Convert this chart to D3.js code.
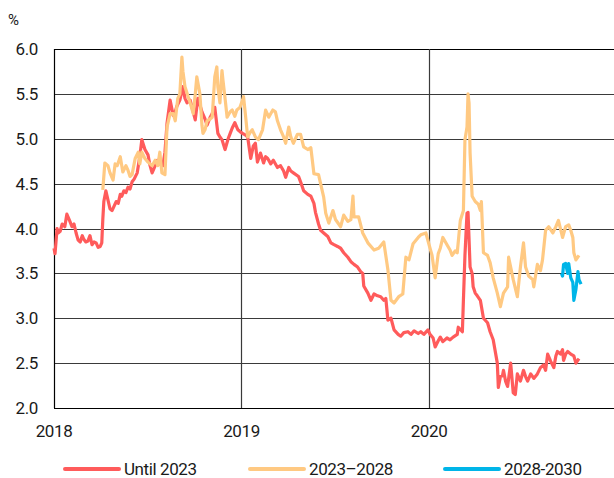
<!DOCTYPE html>
<html>
<head>
<meta charset="utf-8">
<script src="https://cdn.jsdelivr.net/npm/d3@7"></script>
<style>
  body { margin: 0; background: #fff; }
  text { font-family: "Roboto", sans-serif; fill: #1a1a1a; letter-spacing: -0.4px; }
</style>
</head>
<body>
<svg></svg>
<script>
// yields, %
const until2023 = [
  ["2018-01-01",3.78],["2018-01-03",3.72],["2018-01-07",4.0],["2018-01-09",3.95],["2018-01-13",3.97],["2018-01-17",4.05],
  ["2018-01-22",4.02],["2018-01-26",4.16],["2018-02-01",4.08],["2018-02-05",4.02],["2018-02-09",4.05],["2018-02-13",3.95],
  ["2018-02-17",3.87],["2018-02-21",3.85],["2018-02-25",3.92],["2018-02-28",3.88],["2018-03-04",3.85],["2018-03-08",3.86],
  ["2018-03-12",3.92],["2018-03-16",3.82],["2018-03-20",3.85],["2018-03-24",3.84],["2018-03-28",3.79],["2018-04-01",3.80],
  ["2018-04-04",3.84],["2018-04-06",4.1],["2018-04-08",4.3],["2018-04-12",4.42],["2018-04-16",4.32],["2018-04-20",4.22],
  ["2018-04-24",4.20],["2018-04-28",4.25],["2018-05-02",4.30],["2018-05-06",4.28],["2018-05-10",4.38],["2018-05-13",4.36],
  ["2018-05-17",4.42],["2018-05-21",4.40],["2018-05-25",4.46],["2018-05-29",4.44],["2018-06-02",4.52],["2018-06-06",4.55],
  ["2018-06-12",4.62],["2018-06-17",4.80],["2018-06-21",4.99],["2018-06-27",4.88],["2018-07-03",4.82],["2018-07-07",4.70],
  ["2018-07-11",4.62],["2018-07-17",4.70],["2018-07-21",4.76],["2018-07-26",4.72],["2018-08-01",4.70],["2018-08-05",4.85],
  ["2018-08-09",5.17],["2018-08-15",5.43],["2018-08-21",5.26],["2018-08-25",5.30],["2018-08-28",5.36],["2018-09-03",5.43],
  ["2018-09-09",5.58],["2018-09-13",5.45],["2018-09-17",5.40],["2018-09-23",5.43],["2018-09-29",5.30],["2018-10-03",5.21],
  ["2018-10-08",5.45],["2018-10-12",5.38],["2018-10-16",5.30],["2018-10-22",5.22],["2018-10-26",5.15],["2018-11-01",5.24],
  ["2018-11-05",5.28],["2018-11-10",5.35],["2018-11-16",5.06],["2018-11-20",5.02],["2018-11-24",4.99],["2018-11-30",4.88],
  ["2018-12-06",5.00],["2018-12-10",5.06],["2018-12-14",5.12],["2018-12-19",5.18],["2018-12-25",5.10],["2018-12-29",5.08],
  ["2019-01-03",5.06],["2019-01-09",5.04],["2019-01-13",5.02],["2019-01-19",4.78],["2019-01-24",4.92],["2019-01-28",4.95],
  ["2019-02-01",4.74],["2019-02-07",4.84],["2019-02-13",4.73],["2019-02-17",4.80],["2019-02-21",4.78],["2019-02-27",4.72],
  ["2019-03-04",4.76],["2019-03-12",4.68],["2019-03-18",4.70],["2019-03-24",4.64],["2019-03-28",4.57],["2019-04-03",4.68],
  ["2019-04-07",4.64],["2019-04-12",4.62],["2019-04-22",4.58],["2019-04-26",4.52],["2019-05-02",4.42],["2019-05-10",4.38],
  ["2019-05-16",4.36],["2019-05-22",4.28],["2019-05-25",4.18],["2019-05-31",4.05],["2019-06-04",3.98],["2019-06-10",3.95],
  ["2019-06-18",3.91],["2019-06-24",3.84],["2019-06-30",3.82],["2019-07-07",3.80],["2019-07-13",3.78],["2019-07-19",3.73],
  ["2019-07-27",3.68],["2019-08-02",3.63],["2019-08-08",3.60],["2019-08-15",3.57],["2019-08-21",3.52],["2019-08-25",3.50],
  ["2019-08-27",3.36],["2019-09-04",3.28],["2019-09-10",3.20],["2019-09-16",3.27],["2019-09-23",3.25],["2019-09-29",3.24],
  ["2019-10-05",3.20],["2019-10-09",3.22],["2019-10-13",2.98],["2019-10-19",3.00],["2019-10-25",2.87],["2019-11-02",2.82],
  ["2019-11-07",2.80],["2019-11-13",2.84],["2019-11-21",2.85],["2019-11-27",2.82],["2019-12-03",2.86],["2019-12-11",2.83],
  ["2019-12-16",2.85],["2019-12-22",2.82],["2019-12-30",2.87],["2020-01-03",2.82],["2020-01-09",2.78],["2020-01-13",2.68],
  ["2020-01-19",2.75],["2020-01-23",2.79],["2020-01-28",2.74],["2020-02-05",2.78],["2020-02-11",2.76],["2020-02-17",2.79],
  ["2020-02-25",2.82],["2020-02-27",2.90],["2020-03-06",2.85],["2020-03-08",3.20],["2020-03-11",3.70],["2020-03-15",4.17],
  ["2020-03-17",4.18],["2020-03-21",3.57],["2020-03-25",3.50],["2020-03-27",3.35],["2020-03-31",3.28],["2020-04-04",3.25],
  ["2020-04-10",3.20],["2020-04-16",3.00],["2020-04-24",2.95],["2020-04-29",2.85],["2020-05-05",2.76],["2020-05-13",2.50],
  ["2020-05-15",2.23],["2020-05-19",2.35],["2020-05-23",2.36],["2020-05-25",2.42],["2020-05-29",2.30],["2020-06-02",2.24],
  ["2020-06-08",2.50],["2020-06-13",2.17],["2020-06-17",2.15],["2020-06-21",2.38],["2020-06-27",2.30],["2020-07-03",2.42],
  ["2020-07-07",2.35],["2020-07-11",2.30],["2020-07-17",2.38],["2020-07-23",2.33],["2020-07-30",2.38],["2020-08-05",2.45],
  ["2020-08-11",2.48],["2020-08-15",2.42],["2020-08-19",2.60],["2020-08-25",2.52],["2020-08-31",2.45],["2020-09-04",2.58],
  ["2020-09-07",2.63],["2020-09-13",2.60],["2020-09-17",2.65],["2020-09-19",2.53],["2020-09-23",2.60],["2020-09-27",2.63],
  ["2020-10-03",2.60],["2020-10-09",2.58],["2020-10-13",2.50],["2020-10-19",2.55]
];
const from2023to2028 = [
  ["2018-04-06",4.43],["2018-04-10",4.73],["2018-04-16",4.70],["2018-04-20",4.62],["2018-04-26",4.54],["2018-04-30",4.72],
  ["2018-05-04",4.70],["2018-05-10",4.80],["2018-05-15",4.63],["2018-05-21",4.70],["2018-05-25",4.65],["2018-05-29",4.58],
  ["2018-06-02",4.60],["2018-06-08",4.78],["2018-06-14",4.85],["2018-06-17",4.72],["2018-06-21",4.85],["2018-06-27",4.78],
  ["2018-07-03",4.74],["2018-07-07",4.72],["2018-07-11",4.70],["2018-07-17",4.76],["2018-07-22",4.70],["2018-07-26",4.85],
  ["2018-07-30",4.62],["2018-08-05",4.60],["2018-08-09",5.13],["2018-08-15",5.28],["2018-08-21",5.28],["2018-08-25",5.20],
  ["2018-08-30",5.45],["2018-09-03",5.50],["2018-09-07",5.91],["2018-09-09",5.75],["2018-09-13",5.58],["2018-09-19",5.47],
  ["2018-09-23",5.40],["2018-09-29",5.28],["2018-10-03",5.50],["2018-10-06",5.69],["2018-10-12",5.50],["2018-10-16",5.15],
  ["2018-10-18",5.06],["2018-10-22",5.10],["2018-10-26",5.20],["2018-11-01",5.22],["2018-11-05",5.24],["2018-11-10",5.69],
  ["2018-11-14",5.80],["2018-11-16",5.58],["2018-11-20",5.40],["2018-11-24",5.76],["2018-11-26",5.65],["2018-11-30",5.45],
  ["2018-12-04",5.24],["2018-12-10",5.30],["2018-12-14",5.32],["2018-12-19",5.25],["2018-12-23",5.32],["2018-12-29",5.35],
  ["2019-01-03",5.43],["2019-01-05",5.47],["2019-01-09",5.25],["2019-01-13",5.02],["2019-01-19",5.08],["2019-01-22",5.10],
  ["2019-01-28",5.02],["2019-02-03",4.99],["2019-02-11",5.10],["2019-02-17",5.32],["2019-02-23",5.24],["2019-03-03",5.32],
  ["2019-03-08",5.30],["2019-03-12",5.20],["2019-03-18",5.10],["2019-03-24",5.02],["2019-03-28",4.95],["2019-04-03",5.13],
  ["2019-04-07",5.02],["2019-04-12",4.95],["2019-04-20",5.05],["2019-04-26",5.05],["2019-05-02",4.91],["2019-05-10",4.88],
  ["2019-05-16",4.90],["2019-05-22",4.61],["2019-05-31",4.60],["2019-06-06",4.45],["2019-06-10",4.35],["2019-06-14",4.17],
  ["2019-06-20",4.06],["2019-06-28",4.20],["2019-07-03",4.10],["2019-07-13",4.02],["2019-07-19",4.15],["2019-07-27",4.08],
  ["2019-08-02",4.10],["2019-08-06",4.36],["2019-08-08",4.13],["2019-08-17",4.13],["2019-08-25",3.95],["2019-09-04",3.84],
  ["2019-09-16",3.76],["2019-09-25",3.78],["2019-10-05",3.85],["2019-10-13",3.54],["2019-10-19",3.20],["2019-10-25",3.17],
  ["2019-11-03",3.24],["2019-11-11",3.27],["2019-11-17",3.68],["2019-11-23",3.65],["2019-12-01",3.83],["2019-12-11",3.90],
  ["2019-12-16",3.93],["2019-12-26",3.95],["2020-01-03",3.78],["2020-01-07",3.70],["2020-01-13",3.45],["2020-01-19",3.72],
  ["2020-01-23",3.78],["2020-01-28",3.90],["2020-02-07",3.80],["2020-02-11",3.76],["2020-02-15",3.70],["2020-02-21",3.75],
  ["2020-02-25",3.73],["2020-03-02",4.09],["2020-03-08",4.20],["2020-03-11",4.99],["2020-03-15",5.13],["2020-03-17",5.50],
  ["2020-03-19",5.40],["2020-03-21",4.84],["2020-03-25",4.36],["2020-03-31",4.30],["2020-04-06",4.27],["2020-04-10",4.20],
  ["2020-04-12",4.30],["2020-04-16",3.73],["2020-04-24",3.70],["2020-04-29",3.62],["2020-05-05",3.45],["2020-05-13",3.28],
  ["2020-05-19",3.13],["2020-05-25",3.28],["2020-06-02",3.35],["2020-06-04",3.68],["2020-06-08",3.57],["2020-06-13",3.43],
  ["2020-06-21",3.24],["2020-06-27",3.57],["2020-07-03",3.84],["2020-07-07",3.57],["2020-07-13",3.47],["2020-07-21",3.43],
  ["2020-07-23",3.35],["2020-07-30",3.60],["2020-08-05",3.53],["2020-08-09",3.65],["2020-08-15",3.98],["2020-08-21",4.02],
  ["2020-08-29",3.95],["2020-09-04",4.02],["2020-09-09",4.09],["2020-09-17",3.90],["2020-09-23",4.02],["2020-09-29",4.04],
  ["2020-10-03",3.98],["2020-10-07",3.90],["2020-10-09",3.73],["2020-10-13",3.65],["2020-10-19",3.70]
];
const from2028to2030 = [
  ["2020-09-15",3.50],["2020-09-17",3.47],["2020-09-19",3.60],["2020-09-23",3.61],["2020-09-27",3.50],["2020-09-29",3.61],
  ["2020-10-03",3.45],["2020-10-07",3.40],["2020-10-09",3.20],["2020-10-13",3.32],["2020-10-17",3.52],["2020-10-19",3.43],
  ["2020-10-23",3.38]
];
const seriesNames = ["Until 2023", "2023\u20132028", "2028-2030"];
const seriesColors = ["#ff5b5b", "#ffc982", "#00b5e8"];
const yTicks = [2.0, 2.5, 3.0, 3.5, 4.0, 4.5, 5.0, 5.5, 6.0];
const xTicks = ["2018-01-01", "2019-01-01", "2020-01-01"];

const [width, height] = [614, 478];
const margin = {top: 49, left: 54, bottom: 70};
const parse = d3.timeParse('%Y-%m-%d');

const svg = d3.select('svg')
  .attr('width', width)
  .attr('height', height);

const x = d3.scaleTime()
  .domain([parse('2018-01-01'), parse('2021-01-01')])
  .range([margin.left, 617]);
const y = d3.scaleLinear()
  .domain([2, 6])
  .range([height - margin.bottom, margin.top]);

// horizontal grid
svg.append('g')
  .selectAll('line')
  .data(yTicks)
  .join('line')
  .attr('x1', margin.left)
  .attr('x2', width)
  .attr('y1', d => Math.round(y(d)) + 0.5)
  .attr('y2', d => Math.round(y(d)) + 0.5)
  .attr('stroke', d => (d === 6 || d === 2) ? '#000' : '#3a3a3a')
  .attr('stroke-width', 1.2);

// vertical grid at year starts
svg.append('g')
  .selectAll('line')
  .data(xTicks)
  .join('line')
  .attr('x1', d => Math.round(x(parse(d))) + 0.5)
  .attr('x2', d => Math.round(x(parse(d))) + 0.5)
  .attr('y1', y(6))
  .attr('y2', y(2))
  .attr('stroke', (d, i) => i === 0 ? '#000' : '#3a3a3a')
  .attr('stroke-width', 1.2);

// y labels
svg.append('g')
  .selectAll('text')
  .data(yTicks)
  .join('text')
  .attr('x', 38)
  .attr('y', d => y(d))
  .attr('dy', '0.36em')
  .attr('text-anchor', 'end')
  .attr('font-size', 17)
  .text(d => d3.format('.1f')(d));

svg.append('text')
  .attr('x', 8)
  .attr('y', 25)
  .attr('font-size', 15)
  .text('%');

// x labels
svg.append('g')
  .selectAll('text')
  .data(xTicks)
  .join('text')
  .attr('x', d => x(parse(d)))
  .attr('y', 437)
  .attr('text-anchor', 'middle')
  .attr('font-size', 17)
  .text(d => d.slice(0, 4));

// lines
const line = d3.line()
  .x(d => x(parse(d[0])))
  .y(d => y(d[1]));

svg.append('g')
  .selectAll('path')
  .data([until2023, from2023to2028, from2028to2030])
  .join('path')
  .attr('fill', 'none')
  .attr('stroke', (d, i) => seriesColors[i])
  .attr('stroke-width', 3.2)
  .attr('stroke-linejoin', 'round')
  .attr('d', line);

// legend
const legendX = [65, 250, 445];
const legend = svg.append('g')
  .selectAll('g')
  .data(seriesNames)
  .join('g')
  .attr('transform', (d, i) => `translate(${legendX[i]}, 469)`);
legend.append('line')
  .attr('x1', 0)
  .attr('x2', 54)
  .attr('stroke', (d, i) => seriesColors[i])
  .attr('stroke-width', 4)
  .attr('stroke-linecap', 'round');
legend.append('text')
  .attr('x', 59)
  .attr('dy', '0.36em')
  .attr('font-size', 17)
  .text(d => d);
</script>
</body>
</html>
